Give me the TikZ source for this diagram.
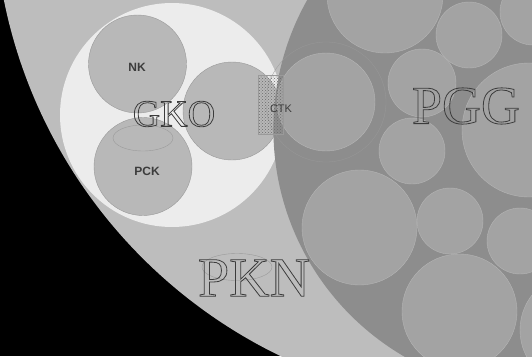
\documentclass[tikz,border=0pt]{standalone}
\usepackage{fontspec}
\setmainfont{Liberation Serif}
\newfontfamily\labfont{Liberation Sans}
\usetikzlibrary{patterns}
\definecolor{cBlack}{HTML}{000000}
\definecolor{cPKN}{HTML}{BDBDBD}
\definecolor{cGKO}{HTML}{ECECEC}
\definecolor{cSub}{HTML}{B8B8B8}
\definecolor{cPGG}{HTML}{8D8D8D}
\definecolor{cIn}{HTML}{A3A3A3}
\definecolor{cInLine}{HTML}{B5B5B5}
\definecolor{cSubLine}{HTML}{9A9A9A}
\definecolor{cRing}{HTML}{999999}
\definecolor{cTxt}{HTML}{3C3C3C}
\newcommand{\outlinetext}[1]{\special{pdf:literal direct 1 Tr 0.8 w}#1\special{pdf:literal direct 0 Tr}}
\tikzset{
  disc/.style={circle, inner sep=0pt, outer sep=0pt, minimum size=#1},
  pgin/.style={disc=#1, fill=cIn, draw=cInLine, line width=0.4pt},
  gsub/.style={disc=#1, fill=cSub, draw=cSubLine, line width=0.4pt},
  biglab/.style={font=\fontsize{#1}{#1}\selectfont, text=cTxt, inner sep=0pt},
  smalllab/.style={font=\labfont\bfseries\fontsize{12}{12}\selectfont, text=cTxt, inner sep=0pt},
  faint/.style={draw=cSubLine, line width=0.4pt},
}
\begin{document}
\begin{tikzpicture}[x=1pt,y=-1pt]
\useasboundingbox (0,0) rectangle (532,356);
\clip (0,0) rectangle (532,356);
\fill[cBlack] (0,0) rectangle (532,356);
% PKN
\node[disc=1012pt, fill=cPKN] (pkn) at (500,-100) {};
% GKO
\node[disc=224pt, fill=cGKO] (gko) at (172,115) {};
\node[gsub=98pt] (nk) at (137.5,64) {};
\node[gsub=98pt] (pck) at (143,166.5) {};
\node[gsub=98pt] (gr) at (232,111) {};
\draw[faint] (143,138) ellipse [x radius=30, y radius=13];
% PGG
\node[disc=526pt, fill=cPGG] (pgg) at (536.4,129.1) {};
\node[pgin=116pt] (c1) at (385,-5) {};
\node[pgin=66pt] (c2) at (469,35) {};
\node[pgin=66pt] (c3) at (533,12) {};
\node[disc=120pt, draw=cRing, line width=0.3pt] (c4o) at (326,102) {};
\node[pgin=98pt] (c4) at (326,102) {};
\node[pgin=68pt] (c5) at (422,83) {};
\node[pgin=66pt] (c6) at (412,151) {};
\node[pgin=134pt] (c7) at (529,130) {};
\node[pgin=115pt] (c9) at (359.5,227.5) {};
\node[pgin=66pt] (c10) at (450,221) {};
\node[pgin=66pt] (c11) at (520,241) {};
\node[pgin=115pt] (c12) at (459.5,311.5) {};
\node[pgin=114pt] (c13) at (577,330) {};
% CTK
\node[draw=cSubLine, line width=0.4pt, fill=cIn, pattern=crosshatch dots, pattern color=cSubLine!70!black, minimum width=25pt, minimum height=59pt, inner sep=0pt] (ctk) at (271,104.5) {};
\node[font=\labfont\fontsize{11}{11}\selectfont, text=cTxt, inner sep=0pt] (ctkl) at (281,109) {CTK};
% PKN ellipse
\draw[faint] (237,267) ellipse [x radius=35, y radius=13.5];
% labels
\node[smalllab] (nkl) at (137,67) {NK};
\node[smalllab] (pckl) at (147,171) {PCK};
\node[biglab=38] (gkol) at (174,114) {\outlinetext{GKO}};
\node[biglab=54] (pggl) at (466,106) {\outlinetext{PGG}};
\node[biglab=56] (pknl) at (254,278) {\outlinetext{PKN}};
\end{tikzpicture}
\end{document}
